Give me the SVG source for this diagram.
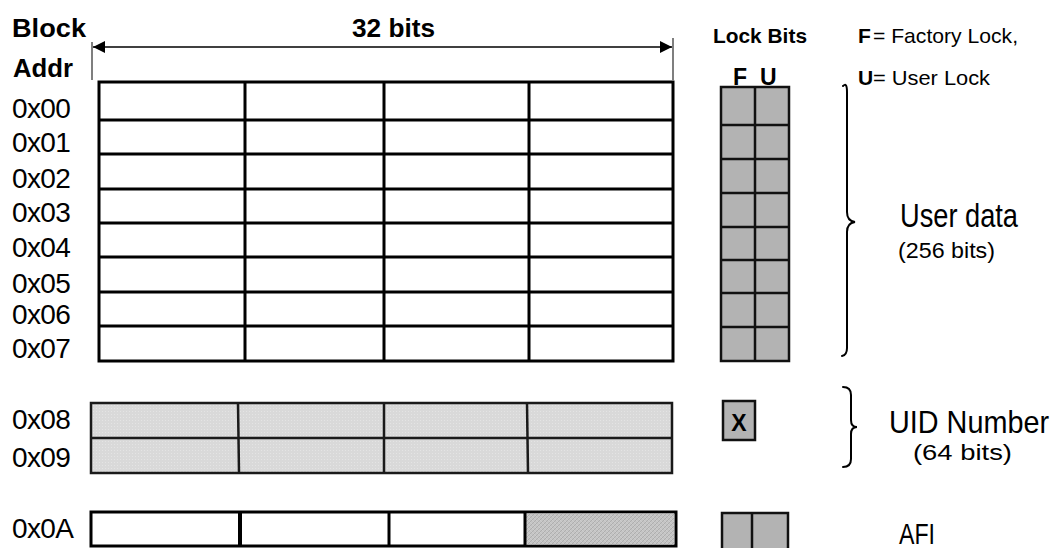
<svg xmlns="http://www.w3.org/2000/svg" width="1052" height="548" viewBox="0 0 1052 548" font-family="'Liberation Sans', Arial, sans-serif">
  <defs>
    <style>
      text { font-family: "Liberation Sans", Arial, sans-serif; fill: #000; }
      .b { font-weight: bold; }
      .addr { font-size: 28px; letter-spacing: -0.6px; }
      .cell { fill: #fff; stroke: #000; stroke-width: 3; }
      .uid { fill: url(#dots); stroke: #1a1a1a; stroke-width: 2.5; }
      .lock { fill: #b3b3b3; stroke: #111; stroke-width: 2.5; }
      .brace { fill: none; stroke: #000; stroke-width: 2; stroke-linecap: round; }
    </style>
    <pattern id="dots" width="3" height="3" patternUnits="userSpaceOnUse">
      <rect width="3" height="3" fill="#d9d9d9"/>
      <rect width="1" height="1" fill="#e4e4e4"/>
    </pattern>
    <pattern id="hatch" width="4" height="4" patternUnits="userSpaceOnUse">
      <rect width="4" height="4" fill="#c4c4c4"/>
      <path d="M0,4 L4,0" stroke="#a8a8a8" stroke-width="0.8"/>
      <path d="M0,0 L4,4" stroke="#d4d4d4" stroke-width="0.6"/>
    </pattern>
    <marker id="ah" viewBox="0 0 10 10" refX="10" refY="5" markerWidth="17" markerHeight="12" markerUnits="userSpaceOnUse" orient="auto-start-reverse">
      <path d="M0,0 L10,5 L0,10 Z" fill="#000"/>
    </marker>
  </defs>
  <rect width="1052" height="548" fill="#fff"/>

  <!-- headers -->
  <g id="header">
    <text class="b" x="12" y="37" font-size="26" textLength="74" lengthAdjust="spacingAndGlyphs">Block</text>
    <text class="b" x="13" y="77" font-size="26" textLength="60" lengthAdjust="spacingAndGlyphs">Addr</text>
    <text class="b" x="352" y="37" font-size="26" textLength="83" lengthAdjust="spacingAndGlyphs">32 bits</text>
    <text class="b" x="713" y="43" font-size="21" textLength="94" lengthAdjust="spacingAndGlyphs">Lock Bits</text>
    <text x="858" y="43" font-size="21"><tspan class="b">F</tspan><tspan x="873" textLength="145" lengthAdjust="spacingAndGlyphs">= Factory Lock,</tspan></text>
    <text x="858" y="85" font-size="21"><tspan class="b">U</tspan><tspan x="873" textLength="117" lengthAdjust="spacingAndGlyphs">= User Lock</tspan></text>
    <text class="b" x="733" y="85" font-size="23">F</text>
    <text class="b" x="760" y="85" font-size="23">U</text>
  </g>

  <!-- width dimension and braces -->
  <g id="connectors">
    <line x1="92" y1="42" x2="92" y2="80" stroke="#555" stroke-width="1.5"/>
    <line x1="673" y1="38" x2="673" y2="80" stroke="#555" stroke-width="1.5"/>
    <line x1="93" y1="47" x2="672" y2="47" stroke="#000" stroke-width="1.5" marker-start="url(#ah)" marker-end="url(#ah)"/>
    <path class="brace" d="M843,86 Q847,82 847,92 L847,212 Q847,221 855,222 Q847,223 847,232 L847,348 Q847,355 842,356"/>
    <path class="brace" d="M843,387 Q851,387 851,395 L851,420 Q851,427 857,427 Q851,427 851,434 L851,459 Q851,467 843,467"/>
  </g>

  <!-- address labels -->
  <g id="addr-labels">
    <text class="addr" x="12" y="118">0x00</text>
    <text class="addr" x="12" y="152">0x01</text>
    <text class="addr" x="12" y="188">0x02</text>
    <text class="addr" x="12" y="222">0x03</text>
    <text class="addr" x="12" y="257">0x04</text>
    <text class="addr" x="12" y="293">0x05</text>
    <text class="addr" x="12" y="324">0x06</text>
    <text class="addr" x="12" y="358">0x07</text>
    <text class="addr" x="12" y="429">0x08</text>
    <text class="addr" x="12" y="467">0x09</text>
    <text class="addr" x="12" y="538">0x0A</text>
  </g>

  <!-- user data memory grid -->
  <g id="user-data-grid">
    <rect class="cell" x="99" y="82" width="574" height="279"/>
    <g stroke="#000" stroke-width="3">
      <line x1="99" y1="120" x2="673" y2="120"/>
      <line x1="99" y1="154" x2="673" y2="154"/>
      <line x1="99" y1="189" x2="673" y2="189"/>
      <line x1="99" y1="223" x2="673" y2="223"/>
      <line x1="99" y1="257" x2="673" y2="257"/>
      <line x1="99" y1="292" x2="673" y2="292"/>
      <line x1="99" y1="326" x2="673" y2="326"/>
      <line x1="245" y1="82" x2="245" y2="361"/>
      <line x1="384" y1="82" x2="384" y2="361"/>
      <line x1="529" y1="82" x2="529" y2="361"/>
    </g>
  </g>

  <!-- user lock bits -->
  <g id="lock-bits">
    <rect class="lock" x="721" y="87" width="68" height="274"/>
    <g stroke="#111" stroke-width="2.5">
      <line x1="755" y1="87" x2="755" y2="361"/>
      <line x1="721" y1="125" x2="789" y2="125"/>
      <line x1="721" y1="159" x2="789" y2="159"/>
      <line x1="721" y1="193" x2="789" y2="193"/>
      <line x1="721" y1="227" x2="789" y2="227"/>
      <line x1="721" y1="260" x2="789" y2="260"/>
      <line x1="721" y1="293" x2="789" y2="293"/>
      <line x1="721" y1="327" x2="789" y2="327"/>
    </g>
  </g>

  <g id="user-data-label">
    <text x="900" y="227" font-size="33" textLength="118" lengthAdjust="spacingAndGlyphs">User data</text>
    <text x="898" y="258" font-size="22" textLength="97" lengthAdjust="spacingAndGlyphs">(256 bits)</text>
  </g>

  <!-- UID rows -->
  <g id="uid-grid">
    <rect class="uid" x="91" y="403" width="581" height="70"/>
    <g stroke="#1a1a1a" stroke-width="2.5">
      <line x1="91" y1="438" x2="672" y2="438"/>
      <line x1="238" y1="403" x2="239" y2="473"/>
      <line x1="384" y1="403" x2="384" y2="473"/>
      <line x1="527" y1="403" x2="528" y2="473"/>
    </g>
  </g>

  <g id="uid-lock">
    <rect class="lock" x="723" y="401" width="32" height="39" stroke-width="2"/>
    <text class="b" x="739" y="431" font-size="23" text-anchor="middle">X</text>
  </g>

  <g id="uid-label">
    <text transform="translate(889,433) scale(0.9,1)" font-size="32">UID Number</text>
    <text x="913" y="460" font-size="22" textLength="99" lengthAdjust="spacingAndGlyphs">(64 bits)</text>
  </g>

  <!-- AFI row -->
  <g id="afi-grid">
    <rect class="cell" x="91" y="512" width="585" height="34"/>
    <rect x="526" y="513.5" width="148" height="31" fill="url(#hatch)"/>
    <g stroke="#000">
      <line x1="240" y1="512" x2="240" y2="546" stroke-width="4"/>
      <line x1="389" y1="512" x2="389" y2="546" stroke-width="3"/>
      <line x1="525" y1="512" x2="525" y2="546" stroke-width="3"/>
    </g>
  </g>

  <g id="afi-lock">
    <rect class="lock" x="722" y="513" width="66" height="40"/>
    <line x1="752" y1="513" x2="752" y2="553" stroke="#111" stroke-width="2.5"/>
  </g>

  <g id="afi-label">
    <text x="899" y="544" font-size="30" textLength="36" lengthAdjust="spacingAndGlyphs">AFI</text>
  </g>
</svg>
